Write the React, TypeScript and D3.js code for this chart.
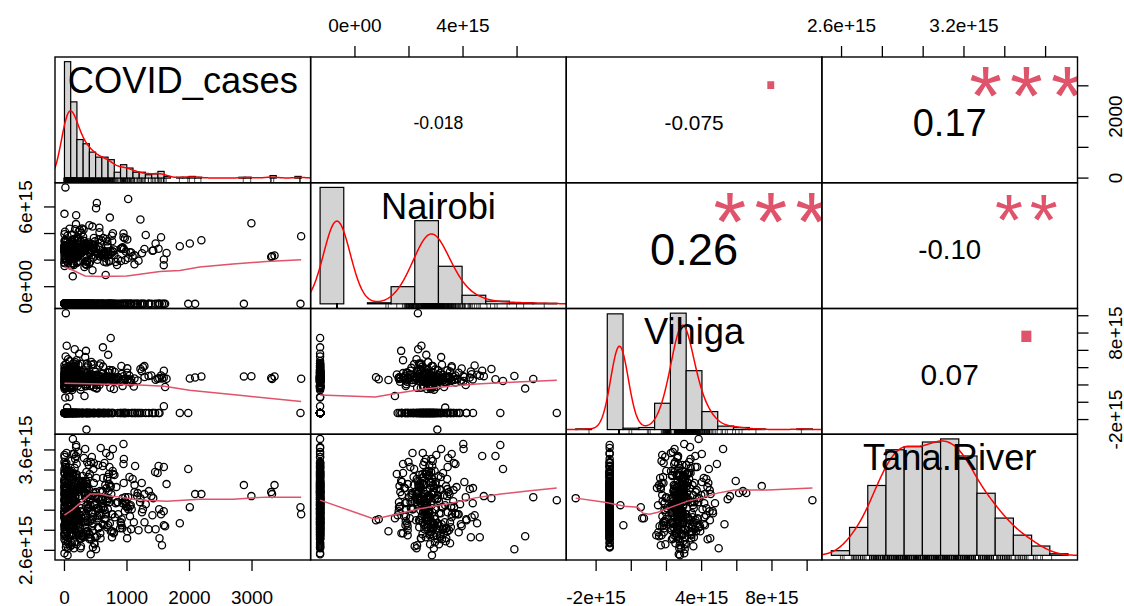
import React, { useMemo } from "react";
import * as d3 from "d3";

// ---------------- data ----------------
const variableNames = ["COVID_cases", "Nairobi", "Vihiga", "Tana.River"];

const covidCases: number[] = [
  12, 145, 0, 356, 88, 1210, 23, 176, 540, 3, 260, 1980, 67, 130, 948,
  415, 5, 290, 1520, 110, 32, 640, 1075, 190, 0, 385, 712, 41, 1350, 157,
  233, 8, 890, 1450, 121, 56, 470, 3775, 18, 168, 1130, 275, 95, 580, 74,
  0, 210, 34, 1560, 118, 7, 455, 0, 166, 830, 62, 305, 1040, 2, 139,
  590, 15, 248, 102, 1280, 49, 720, 183, 0, 2090, 377, 26, 1610, 128, 965,
  80, 510, 11, 1170, 264, 152, 0, 683, 438, 19, 1390, 97, 221, 1005, 58,
  174, 330, 6, 760, 2870, 113, 45, 615, 189, 1255, 0, 402, 29, 915, 141,
  283, 71, 545, 1490, 13, 196, 368, 1110, 37, 658, 124, 0, 805, 215, 84,
  493, 1590, 160, 21, 342, 740, 4, 135, 1060, 52,
  44, 318, 1185, 173, 0, 625, 252, 1845, 90, 437, 109, 780, 1300, 61, 361,
  207, 950, 15, 547, 134, 205, 395, 690, 28, 1020, 281, 198, 470, 0, 856,
  150, 573, 1420, 339, 76, 705, 226, 981, 117, 653, 1505, 33, 412, 1240, 187,
  9, 299, 612, 1090, 145, 768, 350, 926, 486, 55,
  22, 143, 505, 3307, 268, 0, 151, 372, 275, 161, 64, 45, 430, 715, 107,
  2005, 240, 39, 560, 310, 185, 311, 0, 672, 456, 3, 131, 85, 944, 527,
  276, 17, 3786, 618, 179, 66, 398, 749, 10, 130, 122, 344, 489, 212, 592,
  50, 463, 2190, 155, 119, 735, 0, 291, 176, 167, 380, 972, 70, 518, 642,
  3320, 126, 33, 222, 27, 819, 405, 160, 198, 558, 94, 2990, 333, 685, 115,
  1045, 1590, 0, 257, 448, 3360, 171, 775, 36, 445, 364, 613, 140, 58, 930,
  538, 206, 88, 81, 726, 492, 188, 1120, 320, 0, 664, 12, 149, 245, 577,
  13, 421, 903, 470, 133, 352, 799, 47, 1005, 699,
  4, 132, 287, 0, 61, 178, 351, 19, 455, 104, 533, 612, 229, 149, 39, 740, 980, 382, 83, 1163,
  27, 0, 118, 246, 405, 72, 190, 318, 9, 561, 163, 0, 698, 272, 2, 789, 124, 1048, 347, 1515,
  53, 201, 0, 143, 371, 6, 474, 258, 95, 680, 111, 587, 30, 860, 183, 336, 0, 726, 930, 1236,
  0, 157, 14, 299, 420, 68, 135, 396, 618, 0, 186, 510, 44, 235, 772, 1002, 97, 167, 441, 1345,
  36, 109, 0, 264, 312, 78, 193, 489, 550, 21, 128, 667, 0, 218, 355, 703, 901, 152, 58, 1407,
  8, 176, 239, 0, 383, 91, 142, 466, 525, 16, 115, 633, 281, 0, 364, 758, 1121, 47, 199, 965,
  0, 121, 66, 293, 327, 2, 158, 412, 596, 39, 184, 644, 222, 0, 389, 717, 1066, 87, 139, 1588,
  25, 0, 147, 256, 343, 74, 105, 431, 568, 11, 171, 694, 0, 208, 398, 791, 944, 55, 126, 1279,
  0, 164, 31, 276, 305, 81, 117, 482, 539, 0, 195, 621, 249, 17, 358, 763, 1019, 99, 137, 1458,
  42, 0, 180, 227, 376, 63, 112, 447, 502, 5, 154, 659, 0, 268, 331, 841, 910, 1215, 1633, 1545,
];

// Nairobi, Vihiga and Tana.River are stored in units of 1e13
const nairobi: number[] = [
  -129, -129, -129, -129, -129, -129, -129, -129, -129, -129,
  -129, -129, -129, -129, -129, -129, -129, -129, -129, -129,
  -129, -129, -129, -129, -129, -129, -129, -129, -129, -129,
  -129, -129, -129, -129, -129, -129, -129, -129, -129, -129,
  -129, -129, -129, -129, -129, -129, -129, -129, -129, -129,
  -129, -129, -129, -129, -129, -129, -129, -129, -129, -129,
  -129, -129, -129, -129, -129, -129, -129, -129, -129, -129,
  -129, -129, -129, -129, -129, -129, -129, -129, -129, -129,
  -129, -129, -129, -129, -129, -129, -129, -129, -129, -129,
  -129, -129, -129, -129, -129, -129, -129, -129, -129, -129,
  -129, -129, -129, -129, -129, -129, -129, -129, -129, -129,
  -129, -129, -129, -129, -129, -129, -129, -129, -129, -129,
  -129, -129, -129, -129, -129, -129, -129, -129, -129, -129,
  268, 231, 195, 287, 312, 254, 342, 304, 221, 276, 158, 263, 389, 245, 298,
  226, 283, 747, 355, 240, 271, 174, 318, 292, 215, 437, 259, 366, 281, 206,
  248, 330, 273, 189, 295, 237, 412, 264, 352, 218, 286, 195, 305, 252, 538,
  279, 376, 243, 229, 321, 266, 165, 290, 341, 257,
  233, 272, 590, 224, 251, 301, 163, 284, 405, 358, 210, 269, 322, 196, 288,
  325, 241, 262, 410, 277, 229, 345, 256, 183, 318, 266, 314, 238, 372, 203,
  274, 336, 380, 249, 212, 281, 462, 258, 307, 178, 294, 171, 267, 348, 236,
  285, 219, 350, 261, 392, 244, 178, 309, 271, 255, 332, 201, 289, 630, 242,
  230, 297, 213, 365, 278, 186, 250, 327, 265, 443, 223, 477, 282, 341, 316,
  260, 205, 343, 293, 124, 235, 432, 402, 246, 315, 190, 268, 337, 228, 296,
  253, 372, 217, 289, 520, 234, 303, 168, 148, 282, 359, 209, 270, 425, 244,
  311, 257, 193, 279, 78, 305, 239, 384, 356, 264,
  -129, -129, -129, -129, -129, -129, -129, -129, -129, -129,
  -129, -129, -129, -129, -129, -129, -129, -129, -129, -129,
  -129, -129, -129, -129, -129, -129, -129, -129, -129, -129,
  -129, -129, -129, -129, -129, -129, -129, -129, -129, -129,
  -129, -129, -129, -129, -129, -129, -129, -129, -129, -129,
  -129, -129, -129, -129, -129, -129, -129, -129, -129, -129,
  -129, -129, -129, -129, -129, -129, -129, -129, -129, -129,
  -129, -129, -129, -129, -129, -129, -129, -129, -129, -129,
  -129, -129, -129, -129, -129, -129, -129,
  262, 298, 214, 337, 251, 276, 185, 309, 243, 287, 356, 174, 270, 413, 255,
  281, 232, 321, 266, 172, 294, 247, 343, 258, 187, 302, 273, 198, 384, 236,
  289, 252, 364, 207, 278, 241, 315, 269, 155, 296, 188, 347, 283, 471, 261,
  244, 305, 275, 191, 257, 330, 286, 162, 268, 395, 239, 292, 167, 326, 250,
  271, 228, 352, 263, 297, 548, 245, 318, 280, 401, 259, 339, 284, 182, 234,
  293, 256, 429, 436, 274, 311, 248, 286, 178, 367, 265, 299, 237, 342, 660,
  252, 283, 325, 334, 267, 241, 195, 307, 276, 230, 452, 291, 262, 358, 88,
  277, 338, 319, 163, 288, 505, 254, 372,
];

const vihiga: number[] = [
  -123, -123, -123, -123, -123, -123, -123, -123, -123, -123, -123, -123, -123, -123, -123,
  -123, -123, -123, -123, -123, -123, -123, -123, -123, -123, -123, -123, -123, -123, -123,
  -123, -123, -123, -123, -123, -123, -123, -123, -123, -123, -123, -123, -123, -123, -123,
  262, 188, 318, 275, 189, 244, 296, 352, 228, 270, 415, 253, 307, 195, 281,
  239, 336, 267, 158, 291, 224, 374, 259, 301, 286, 428, 446, 176, 329, 273,
  295, 164, 361, 252, 177, 284, 322, 236, 265, 530, 309, 345, 289, 392, 226,
  278, 343, 196, 257, 299, 314, 233, 635, 268, 405, 249, 287, 168, 327, 451,
  292, 366, 245, 271, 54, 303, 258, 181, 338, 283, 142, 264, 349, 236, 476,
  297, -45, 255, 312, 185, 742, 276, 383, 229, 263,
  -123, -123, -123, -123, -123, -123, -123, -123, -123, -123, -123,
  -123, -123, -123, -123, -123, -123, -123, -123, -123, -123, -123,
  -123, -123, -123, -123, -123, -123, -123, -123, -123, -123, -123,
  -123, -123, -123, -123, -123, -123, -123, -123, -123, -123, -123,
  -123, -123, -123, -123, -123, -123, -123, -123, -123, -123, -123,
  1030, 258, 304, 281, 237, 176, 269, 345, 292, 416, 318, 251, 434, 286, 172,
  274, 331, 246, 199, 288, 359, 262, 185, 301, 279, 152, 243, 386, 266, 320,
  238, 295, 271, 412, 256, 183, 307, 285, 372, 337, 263, 594, 248, 293, 326,
  277, 441, 299, 355, 241, 167, 284, 260, 463, 311, 232, 272, 348, 158, 289,
  268, 378, 225, 296, 194, 253, 317, 282, 240, 425, 261, 302, 193, 287, 340,
  235, 364, 279, 146, 257, 298, 323, 246, 654, 270, 209, 333, 283, 497, 252,
  313, 229, 291, 187, 266, 351, 244, 275, 72, 306, 259, 398, 384, 285, 449,
  262, 329, 238, 173, 290, -316, 276, 341, 249, 548,
  -123, -123, -123, -123, -123, -123, -123, -123, -123, -123, -123, -123, -123, -123, -123,
  -123, -123, -123, -123, -123, -123, -123, -123, -123, -123, -123, -123, -123, -123, -123,
  271, 178, 348, 289, 193, 257, 312, 244, 402, 279, 235, 366, 263, 172, 297, 328, 251, 445, 284,
  238, 305, 266, 184, 293, 340, 252, 427, 276, 189, 359, 287, 248, 161, 316, 270, 381, 232, 296,
  282, 247, 334, 203, 268, 561, 291, 341, 372, 258, 196, 303, 274, 412, 241, 353, 286, 62, 263,
  -123, -123, -123, -123, -123, -123, -123, -123, -123, -123, -123, -123, -123,
  -123, -123, -123, -123, -123, -123, -123, -123, -123, -123, -123, -123, -123,
  -123, -123, -123, -123, -123, -123, -123, -123, -123, -123, -123,
  255, 321, 278, 187, 299, 243, 364, 268, 433, 231, 290, 345, 262, 176, 307, 284, 374, 391, 249,
  273, 236, 318, 259, 465, 292, 356, 337, 267, 246, 378, 285, 154, 301, 253, 226, 418, 280, 613,
  288, 242, 356, 264, 199, 311, 275, 233, 487, 257, 326, 294, 447, 369, 270, 181, 302, 261, -62,
  277, 438, 342, 251, 296, 168, 319, 283, 245, 401, 266, 333, 238, 522, 290, 419, 385, 272, 309,
];

const tanaRiver: number[] = [
  288, 311, 276, 322, 297, 308, 263, 334, 283, 317, 302, 341, 294, 356, 327,
  305, 286, 329, 272, 313, 292, 347, 301, 281, 324, 299, 336, 279, 319, 309,
  296, 321, 282, 338, 312, 268, 306, 303, 289, 326, 344, 274, 318, 362, 291,
  310, 287, 328, 265, 300, 346, 293, 315, 280, 323, 307, 277, 333, 298, 318,
  295, 308, 271, 325, 288, 311, 343, 290, 257, 316, 302, 320, 284, 331, 299,
  304, 332, 281, 317, 294, 262, 327, 309, 353, 286, 314, 297, 322, 279, 339,
  306, 283, 312, 273, 325, 296, 335, 319, 289, 301, 348, 276, 321, 291, 316,
  298, 318, 282, 337, 303, 266, 323, 288, 342, 311, 275, 329, 293, 358, 307,
  313, 285, 300, 345, 278, 324, 292, 371, 305, 287, 334, 317, 280, 328, 297,
  302, 321, 287, 264, 314, 295, 336, 306, 272, 326, 290, 351, 310, 283, 309,
  289, 315, 333, 274, 301, 322, 299, 347, 281, 308, 327, 277, 312, 294, 339,
  319, 291, 304, 267, 325, 344, 284, 311, 298, 365, 276, 323, 307, 331, 286,
  296, 324, 282, 314, 300, 310, 335, 261, 318, 288, 355, 303, 279, 328, 293,
  317, 289, 271, 326, 349, 303, 290, 338, 313, 275, 308, 352, 285, 322, 297,
  305, 321, 283, 346, 292, 312, 269, 296, 332, 301, 327, 273, 316, 287, 337,
  294, 329, 306, 280, 311, 255, 341, 316, 302, 286, 323, 277, 334, 299, 309,
  288, 313, 325, 274, 300, 316, 291, 357, 320, 266, 307, 336, 281, 319, 295,
  308, 314, 289, 331, 276, 304, 343, 298, 322, 279, 325, 293, 361, 317, 284,
  301, 286, 324, 262, 312, 345, 297, 333, 282, 354, 305, 275, 318, 292, 338,
  296, 315, 283, 321, 272, 309, 348, 287, 327, 290, 312, 335, 278, 303, 311,
  305, 282, 326, 274, 311, 295, 338, 289, 263, 318, 302, 344, 286, 291, 322, 279, 308, 333, 298, 314,
  292, 316, 281, 325, 271, 304, 336, 288, 319, 297, 342, 309, 285, 321, 353, 277, 312, 294, 328, 301,
  313, 290, 323, 275, 306, 337, 267, 299, 317, 283, 329, 303, 347, 296, 278, 315, 331, 287, 307, 327,
  297, 318, 284, 324, 256, 308, 334, 276, 311, 293, 363, 302, 289, 314, 339, 272, 320, 305, 291, 281,
  306, 286, 319, 264, 326, 292, 335, 273, 301, 316, 282, 357, 298, 322, 279, 312, 288, 304, 328, 295,
  290, 313, 283, 329, 303, 338, 277, 317, 294, 343, 307, 285, 321, 311, 348, 296, 325, 287, 332, 309,
  302, 293, 327, 274, 314, 336, 268, 289, 318, 305, 354, 291, 323, 271, 345, 308, 281, 315, 331, 299,
  312, 284, 324, 262, 304, 337, 276, 297, 319, 288, 351, 301, 341, 292, 320, 278, 366, 306, 282, 316,
  294, 317, 286, 325, 273, 307, 339, 266, 311, 298, 346, 303, 283, 328, 290, 279, 313, 333, 309, 281,
  305, 293, 327, 275, 315, 335, 265, 287, 318, 302, 356, 291, 322, 272, 361, 308, 285, 312, 326, 296,
];

const storedUnit = [1, 1e13, 1e13, 1e13];

// histogram breaks (stored units): first break, bin width, number of bins
const breakStart = [0, -200, -400, 250];
const breakWidth = [100, 100, 100, 10];
const breakCount = [38, 10, 15, 13];

// upper panels: correlation text and significance symbols
const corrCells: [number, number][] = [[0, 1], [0, 2], [0, 3], [1, 2], [1, 3], [2, 3]];
const corrLabels = ["-0.018", "-0.075", "0.17", "0.26", "-0.10", "0.07"];
const corrSignif = ["", ".", "***", "***", "**", "."];

// smoothed trend lines of the lower panels (x and y in stored units)
const smoothCovidNairobiX = [0, 118, 330, 570, 995, 1207, 1526, 1845, 2164, 2695, 3228, 3786];
const smoothCovidNairobiY = [148, 127, 81, 76, 81, 94, 114, 122, 148, 170, 190, 203];
const smoothCovidVihigaX = [0, 400, 800, 1200, 1600, 2000, 2800, 3786];
const smoothCovidVihigaY = [220, 215, 205, 200, 185, 140, 80, 10];
const smoothCovidTanaX = [0, 118, 250, 410, 570, 730, 890, 1100, 1315, 1634, 1900, 2164, 2695, 3228, 3786];
const smoothCovidTanaY = [295, 300, 307, 316, 316, 314, 313, 311, 310, 309, 310, 311, 311, 313, 313];
const smoothNairobiVihigaX = [-129, 75, 150, 250, 350, 450, 600, 747];
const smoothNairobiVihigaY = [85, 60, 100, 150, 185, 210, 235, 253];
const smoothNairobiTanaX = [-129, 73, 120, 169, 231, 293, 356, 440, 540, 639, 747];
const smoothNairobiTanaY = [310, 291, 294, 297, 301, 304, 307, 312, 316, 319, 322];
const smoothVihigaTanaX = [-316, -150, -38, 38, 66, 104, 151, 227, 321, 397, 491, 586, 775, 1030];
const smoothVihigaTanaY = [312, 308, 304, 303, 297, 296, 298, 303, 309, 312, 317, 320, 320, 322];

// axis ticks and the labels that are printed (empty = tick only)
const covidTicks = [0, 1000, 2000, 3000];
const covidBottomLabels = ["0", "1000", "2000", "3000"];
const covidRightLabels = ["0", "", "2000", ""];
const nairobiTicks = [0, 2e15, 4e15, 6e15];
const nairobiTopLabels = ["0e+00", "", "4e+15", ""];
const nairobiLeftLabels = ["0e+00", "", "", "6e+15"];
const vihigaTicks = [-2e15, 0, 2e15, 4e15, 6e15, 8e15, 1e16];
const vihigaBottomLabels = ["-2e+15", "", "", "4e+15", "", "8e+15", ""];
const vihigaRightLabels = ["-2e+15", "", "", "", "", "8e+15", ""];
const tanaTicks = [2.6e15, 2.8e15, 3.0e15, 3.2e15, 3.4e15, 3.6e15];
const tanaTopLabels = ["2.6e+15", "", "", "3.2e+15", "", ""];
const tanaLeftLabels = ["2.6e+15", "", "", "", "", "3.6e+15"];

// ---------------- layout / style ----------------
const W = 1124;
const H = 606;
const GRID_L = 55;
const GRID_R = 1077.5;
const GRID_T = 57;
const GRID_B = 560;
const PW = (GRID_R - GRID_L) / 4;
const PH = (GRID_B - GRID_T) / 4;
const FONT = "'Liberation Sans', Arial, Helvetica, sans-serif";
const AXIS_FONT = 19;
const TICK = 11;
const R_RED = "#DF536B";

const colX = (j: number) => GRID_L + j * PW;
const rowY = (i: number) => GRID_T + i * PH;

let measureCtx: CanvasRenderingContext2D | null = null;
function textWidth(txt: string, size: number) {
  if (!measureCtx) measureCtx = document.createElement("canvas").getContext("2d");
  measureCtx!.font = `${size}px ${FONT}`;
  return measureCtx!.measureText(txt).width;
}

function padded([a, b]: [number, number]): [number, number] {
  const d = (b - a) * 0.04;
  return [a - d, b + d];
}

// Gaussian kernel density with the nrd0 bandwidth rule
function densityCurve(vals: number[]) {
  const n = vals.length;
  const sd = d3.deviation(vals) as number;
  const iqr = (d3.quantile(vals, 0.75) as number) - (d3.quantile(vals, 0.25) as number);
  let lo = Math.min(sd, iqr / 1.34);
  if (!lo) lo = sd || Math.abs(vals[0]) || 1;
  const bw = 0.9 * lo * Math.pow(n, -0.2);
  const [mn, mx] = d3.extent(vals) as [number, number];
  const from = mn - 3 * bw;
  const to = mx + 3 * bw;
  const k = 1 / (n * bw * Math.sqrt(2 * Math.PI));
  const pts: [number, number][] = [];
  for (let i = 0; i < 512; i++) {
    const x = from + (i * (to - from)) / 511;
    let s = 0;
    for (const v of vals) {
      const z = (x - v) / bw;
      s += Math.exp(-0.5 * z * z);
    }
    pts.push([x, s * k]);
  }
  return pts;
}

export default function App() {
  const stored = [covidCases, nairobi, vihiga, tanaRiver];
  const values = stored.map((arr, k) => arr.map((v) => v * storedUnit[k]));
  const n = covidCases.length;

  const xScales = values.map((vals, j) =>
    d3.scaleLinear().domain(padded(d3.extent(vals) as [number, number])).range([colX(j), colX(j) + PW])
  );
  const yScales = values.map((vals, i) =>
    d3.scaleLinear().domain(padded(d3.extent(vals) as [number, number])).range([rowY(i) + PH, rowY(i)])
  );

  const smooth: Record<string, [number[], number[]]> = {
    "1-0": [smoothCovidNairobiX, smoothCovidNairobiY],
    "2-0": [smoothCovidVihigaX, smoothCovidVihigaY],
    "3-0": [smoothCovidTanaX, smoothCovidTanaY],
    "2-1": [smoothNairobiVihigaX, smoothNairobiVihigaY],
    "3-1": [smoothNairobiTanaX, smoothNairobiTanaY],
    "3-2": [smoothVihigaTanaX, smoothVihigaTanaY],
  };

  const diag = useMemo(
    () =>
      stored.map((vals, k) => {
        const start = breakStart[k];
        const width = breakWidth[k];
        const nb = breakCount[k];
        const counts = new Array(nb).fill(0);
        for (const v of vals) {
          let b = Math.floor((v - start) / width);
          if (b < 0) b = 0;
          if (b > nb - 1) b = nb - 1;
          counts[b]++;
        }
        const dens = counts.map((c) => c / (n * width));
        const maxD = d3.max(dens) as number;
        const hx = d3
          .scaleLinear()
          .domain(padded([start, start + nb * width]))
          .range([colX(k), colX(k) + PW]);
        const hy = d3
          .scaleLinear()
          .domain([-0.04 * maxD, 1.04 * maxD])
          .range([rowY(k) + PH, rowY(k)]);
        const curve = densityCurve(vals);
        return { start, width, dens, hx, hy, curve };
      }),
    []
  );

  const labelFont = (0.9 * PW) / d3.max(variableNames, (s) => textWidth(s, 1))!;

  const line = d3.line<[number, number]>();

  const panels: React.ReactNode[] = [];
  for (let i = 0; i < 4; i++) {
    for (let j = 0; j < 4; j++) {
      const x0 = colX(j);
      const y0 = rowY(i);
      const clip = `clip-${i}-${j}`;
      const content: React.ReactNode[] = [];
      if (i === j) {
        const d = diag[i];
        d.dens.forEach((v, b) => {
          const xa = d.hx(d.start + b * d.width);
          const xb = d.hx(d.start + (b + 1) * d.width);
          const ya = d.hy(v);
          const yb = d.hy(0);
          content.push(
            <rect key={`h${b}`} x={xa} y={ya} width={xb - xa} height={yb - ya} fill="#D3D3D3" stroke="#000" strokeWidth={1.2} />
          );
        });
        content.push(
          <path key="kde" d={line(d.curve.map(([x, y]) => [d.hx(x), d.hy(y)]))!} fill="none" stroke="#FF0000" strokeWidth={1.5} />
        );
        stored[i].forEach((v, r) => {
          const xx = d.hx(v);
          content.push(<line key={`r${r}`} x1={xx} x2={xx} y1={y0 + PH} y2={y0 + PH - 5} stroke="#000" strokeWidth={0.7} />);
        });
        const cy = y0 + (1 - (0.5 + 1 / 3)) * PH;
        content.push(
          <text key="lab" x={x0 + PW / 2} y={cy + 2 + 0.358 * labelFont} fontSize={labelFont} textAnchor="middle" fill="#000">
            {variableNames[i]}
          </text>
        );
      } else if (i > j) {
        const xs = xScales[j];
        const ys = yScales[i];
        for (let r = 0; r < n; r++) {
          content.push(
            <circle key={`p${r}`} cx={xs(values[j][r])} cy={ys(values[i][r])} r={3.6} fill="none" stroke="#000" strokeWidth={1.3} />
          );
        }
        const [sx, sy] = smooth[`${i}-${j}`];
        const pts = sx.map((v, q) => [xs(v * storedUnit[j]), ys(sy[q] * storedUnit[i])] as [number, number]);
        content.push(<path key="smooth" d={line(pts)!} fill="none" stroke={R_RED} strokeWidth={1.5} />);
      } else {
        const idx = corrCells.findIndex(([a, b]) => a === i && b === j);
        const txt = corrLabels[idx];
        const r = Math.abs(parseFloat(txt));
        const base = (0.8 * PW) / textWidth(txt, 1);
        const fs = (base * (r + 0.3)) / 1.3;
        content.push(
          <text key="cor" x={x0 + PW / 2} y={y0 + PH / 2 + 3 + 0.358 * fs} fontSize={fs} textAnchor="middle" fill="#000">
            {txt}
          </text>
        );
        const sig = corrSignif[idx];
        if (sig) {
          const cy = y0 + 0.2 * PH;
          if (sig === ".") {
            content.push(
              <text key="sig" x={x0 + 0.8 * PW} y={cy + 3 + 0.05 * base} fontSize={base} textAnchor="middle" fill={R_RED}>
                {sig}
              </text>
            );
          } else {
            // star glyphs are drawn a little smaller, keeping the same advance
            const sfs = base * 0.8;
            const ls = textWidth("*", base) - textWidth("*", sfs);
            content.push(
              <text
                key="sig"
                x={x0 + 0.8 * PW + ls / 2}
                y={cy + 2 + 0.49 * sfs}
                fontSize={sfs}
                letterSpacing={ls}
                textAnchor="middle"
                fill={R_RED}
              >
                {sig}
              </text>
            );
          }
        }
      }
      panels.push(
        <g key={`panel-${i}-${j}`}>
          <clipPath id={clip}>
            <rect x={x0} y={y0} width={PW} height={PH} />
          </clipPath>
          <g clipPath={`url(#${clip})`}>{content}</g>
          <rect x={x0} y={y0} width={PW} height={PH} fill="none" stroke="#000" strokeWidth={1.4} />
        </g>
      );
    }
  }

  // axes around the grid
  const axes: React.ReactNode[] = [];
  const topAxis = (j: number, ticks: number[], labels: string[]) => {
    ticks.forEach((t, q) => {
      const x = xScales[j](t);
      axes.push(<line key={`ta${j}-${q}`} x1={x} x2={x} y1={GRID_T} y2={GRID_T - TICK} stroke="#000" strokeWidth={1.3} />);
      if (labels[q])
        axes.push(
          <text key={`tl${j}-${q}`} x={x} y={GRID_T - 25.3} fontSize={AXIS_FONT} textAnchor="middle">
            {labels[q]}
          </text>
        );
    });
  };
  const bottomAxis = (j: number, ticks: number[], labels: string[]) => {
    ticks.forEach((t, q) => {
      const x = xScales[j](t);
      axes.push(<line key={`ba${j}-${q}`} x1={x} x2={x} y1={GRID_B} y2={GRID_B + TICK} stroke="#000" strokeWidth={1.3} />);
      if (labels[q])
        axes.push(
          <text key={`bl${j}-${q}`} x={x} y={604} fontSize={AXIS_FONT} textAnchor="middle">
            {labels[q]}
          </text>
        );
    });
  };
  const leftAxis = (i: number, ticks: number[], labels: string[]) => {
    ticks.forEach((t, q) => {
      const y = yScales[i](t);
      axes.push(<line key={`la${i}-${q}`} x1={GRID_L} x2={GRID_L - TICK} y1={y} y2={y} stroke="#000" strokeWidth={1.3} />);
      if (labels[q])
        axes.push(
          <text key={`ll${i}-${q}`} transform={`translate(32,${y}) rotate(-90)`} fontSize={AXIS_FONT} textAnchor="middle">
            {labels[q]}
          </text>
        );
    });
  };
  const rightAxis = (i: number, ticks: number[], labels: string[]) => {
    ticks.forEach((t, q) => {
      const y = yScales[i](t);
      axes.push(<line key={`ra${i}-${q}`} x1={GRID_R} x2={GRID_R + TICK} y1={y} y2={y} stroke="#000" strokeWidth={1.3} />);
      if (labels[q])
        axes.push(
          <text key={`rl${i}-${q}`} transform={`translate(1121.5,${y}) rotate(-90)`} fontSize={AXIS_FONT} textAnchor="middle">
            {labels[q]}
          </text>
        );
    });
  };
  topAxis(1, nairobiTicks, nairobiTopLabels);
  topAxis(3, tanaTicks, tanaTopLabels);
  bottomAxis(0, covidTicks, covidBottomLabels);
  bottomAxis(2, vihigaTicks, vihigaBottomLabels);
  leftAxis(1, nairobiTicks, nairobiLeftLabels);
  leftAxis(3, tanaTicks, tanaLeftLabels);
  rightAxis(0, covidTicks, covidRightLabels);
  rightAxis(2, vihigaTicks, vihigaRightLabels);

  return (
    <svg
      width={W}
      height={H}
      viewBox={`0 0 ${W} ${H}`}
      style={{ position: "absolute", left: 0, top: 0, background: "#fff" }}
      fontFamily={FONT}
    >
      <rect x={0} y={0} width={W} height={H} fill="#fff" />
      {panels}
      {axes}
    </svg>
  );
}
